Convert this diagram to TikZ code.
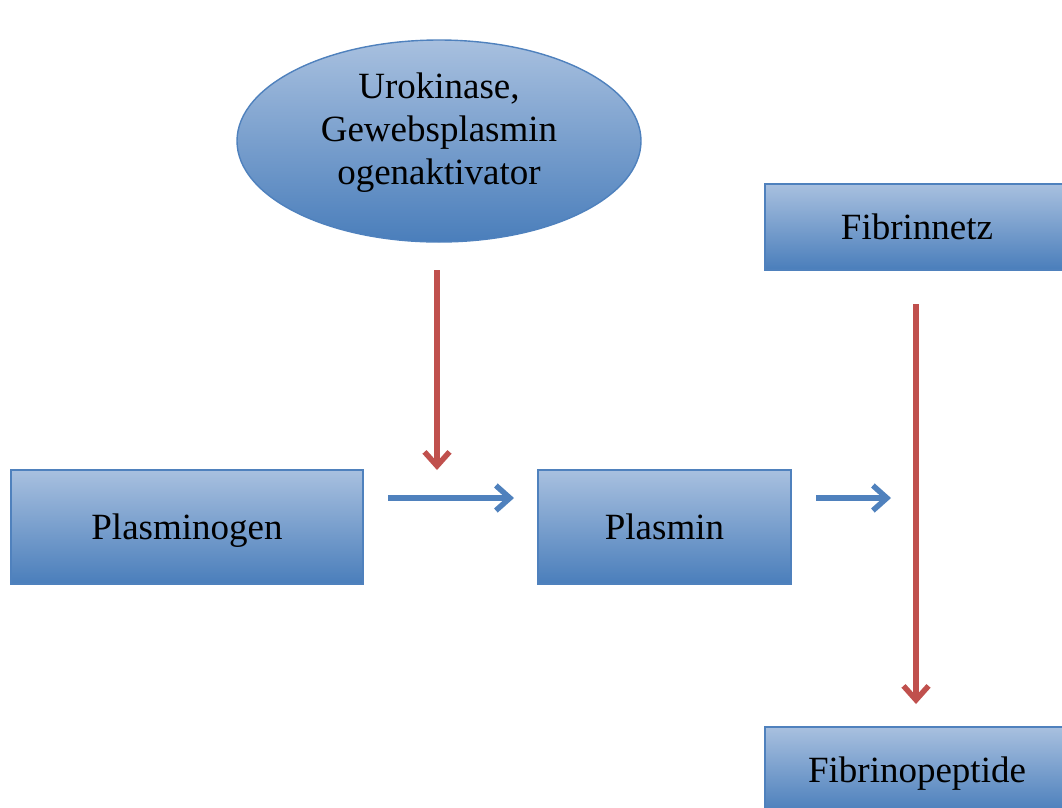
\documentclass[tikz,border=0pt]{standalone}
\usepackage{fontspec}
\setmainfont{Liberation Serif}
\usetikzlibrary{arrows.meta,shapes.geometric}
\definecolor{boxtop}{HTML}{A8C0DF}
\definecolor{boxbot}{HTML}{4A7EBB}
\definecolor{edge}{HTML}{4F81BD}
\definecolor{redarr}{HTML}{C0504D}
\definecolor{bluearr}{HTML}{4F81BD}
\tikzset{
  pbox/.style={rectangle, draw=edge, line width=1.4pt, top color=boxtop, bottom color=boxbot, font=\fontsize{37}{44}\selectfont, text=black, inner sep=0pt, text height=24.5pt, text depth=0pt},
  pell/.style={ellipse, draw=edge, line width=1.4pt, top color=boxtop, bottom color=boxbot, inner sep=0pt},
  elltext/.style={font=\fontsize{37}{43}\selectfont, text=black, align=center, inner sep=0pt},
  redflow/.style={draw=redarr, line width=5.5pt, -{Straight Barb[length=14pt, width=25pt]}},
  blueflow/.style={draw=bluearr, line width=5.5pt, -{Straight Barb[length=14pt, width=25pt]}}
}
\begin{document}
\begin{tikzpicture}[x=1pt, y=-1pt]
\useasboundingbox (0,0) rectangle (1062,807);
\clip (0,0) rectangle (1062,807);
\node[pell, minimum width=404pt, minimum height=202pt] (uro) at (439,141) {};
\node[elltext] (urotext) at (439,133) {Urokinase,\\Gewebsplasmin\\ogenaktivator};
\node[pbox, minimum width=352pt, minimum height=114pt] (plg) at (187,527) {Plasminogen};
\node[pbox, minimum width=253pt, minimum height=114pt] (pl) at (664.5,527) {Plasmin};
\node[pbox, minimum width=304pt, minimum height=86pt] (fn) at (917,227) {Fibrinnetz};
\node[pbox, minimum width=304pt, minimum height=86pt] (fp) at (917,770) {Fibrinopeptide};
\coordinate (r1s) at (437,270);
\coordinate (r1e) at (437,470);
\coordinate (b1s) at (388,498);
\coordinate (b1e) at (514,498);
\coordinate (b2s) at (816,498);
\coordinate (b2e) at (891,498);
\coordinate (r2s) at (916,304);
\coordinate (r2e) at (916,704);
\draw[redflow] (r1s) -- (r1e);
\draw[blueflow] (b1s) -- (b1e);
\draw[blueflow] (b2s) -- (b2e);
\draw[redflow] (r2s) -- (r2e);
\end{tikzpicture}
\end{document}
